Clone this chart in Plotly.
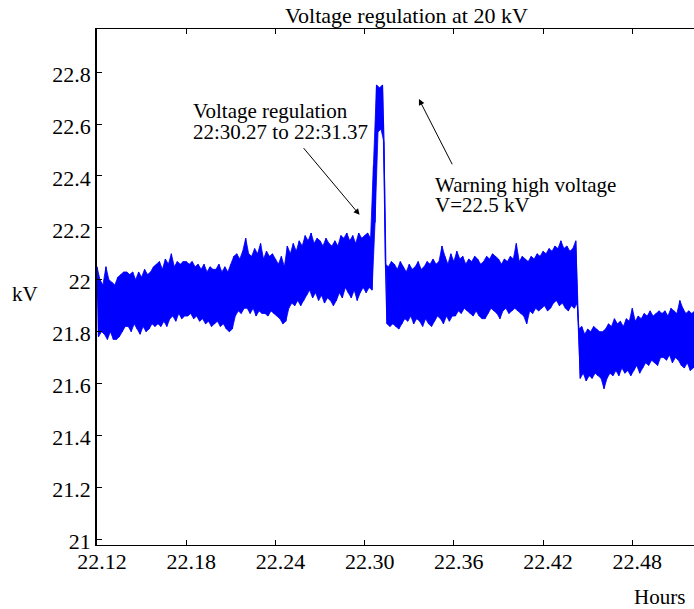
import numpy as np
import plotly.graph_objects as go

# ---------------- data ----------------
# sampling grid of the envelope readings (hours, 22.MM format)
t_start = 22.120
t_step = 0.002

# upper envelope of the voltage trace (kV), one value per sample
v_high = [
    22.05, 22.00, 21.98, 22.05, 22.00, 21.99, 21.98, 22.01, 22.02, 22.03,
    22.03, 22.02, 22.03, 22.00, 22.03, 22.01, 22.04, 22.02, 22.03, 22.05,
    22.06, 22.07, 22.04, 22.08, 22.06, 22.10, 22.05, 22.07, 22.06, 22.07,
    22.07, 22.06, 22.07, 22.05, 22.06, 22.04, 22.06, 22.03, 22.05, 22.04,
    22.04, 22.06, 22.03, 22.05, 22.03, 22.06, 22.09, 22.10, 22.08, 22.11,
    22.16, 22.10, 22.09, 22.12, 22.10, 22.14, 22.08, 22.11, 22.09, 22.10,
    22.08, 22.06, 22.09, 22.05, 22.13, 22.10, 22.14, 22.11, 22.15, 22.13,
    22.17, 22.15, 22.18, 22.14, 22.16, 22.15, 22.13, 22.16, 22.14, 22.13,
    22.15, 22.13, 22.17, 22.16, 22.18, 22.15, 22.17, 22.14, 22.18, 22.16,
    22.17, 22.18, 22.16, 22.44, 22.75, 22.74, 22.75, 22.06, 22.05, 22.07,
    22.06, 22.04, 22.07, 22.05, 22.03, 22.06, 22.04, 22.05, 22.07, 22.04,
    22.05, 22.07, 22.06, 22.08, 22.06, 22.07, 22.13, 22.09, 22.06, 22.10,
    22.07, 22.11, 22.08, 22.09, 22.06, 22.08, 22.07, 22.09, 22.08, 22.06,
    22.07, 22.09, 22.08, 22.10, 22.09, 22.08, 22.06, 22.08, 22.07, 22.09,
    22.08, 22.14, 22.07, 22.09, 22.08, 22.07, 22.09, 22.08, 22.10, 22.09,
    22.11, 22.10, 22.12, 22.11, 22.13, 22.12, 22.15, 22.12, 22.13, 22.11,
    22.12, 22.15, 21.81, 21.82, 21.79, 21.81, 21.80, 21.82, 21.81, 21.80,
    21.80, 21.81, 21.83, 21.82, 21.85, 21.83, 21.84, 21.82, 21.85, 21.84,
    21.89, 21.84, 21.86, 21.85, 21.87, 21.86, 21.88, 21.86, 21.87, 21.88,
    21.87, 21.88, 21.86, 21.89, 21.88, 21.87, 21.92, 21.89, 21.87, 21.88,
    21.87, 21.88,
]

# lower envelope of the voltage trace (kV), one value per sample
v_low = [
    21.78, 21.80, 21.79, 21.77, 21.80, 21.77, 21.77, 21.78, 21.80, 21.82,
    21.82, 21.80, 21.83, 21.81, 21.79, 21.82, 21.80, 21.81, 21.83, 21.82,
    21.83, 21.82, 21.84, 21.82, 21.85, 21.86, 21.84, 21.87, 21.85, 21.86,
    21.86, 21.87, 21.85, 21.86, 21.84, 21.85, 21.83, 21.84, 21.82, 21.83,
    21.84, 21.82, 21.83, 21.81, 21.80, 21.81, 21.86, 21.88, 21.87, 21.89,
    21.89, 21.87, 21.89, 21.86, 21.88, 21.87, 21.87, 21.86, 21.88, 21.87,
    21.86, 21.85, 21.83, 21.84, 21.89, 21.91, 21.90, 21.92, 21.90, 21.92,
    21.94, 21.96, 21.93, 21.95, 21.92, 21.94, 21.91, 21.93, 21.92, 21.90,
    21.92, 21.95, 21.93, 21.97, 21.95, 21.93, 21.96, 21.92, 21.95, 21.97,
    21.95, 21.97, 21.96, 22.22, 22.57, 22.58, 22.53, 21.83, 21.82, 21.83,
    21.82, 21.81, 21.83, 21.85, 21.84, 21.86, 21.83, 21.85, 21.84, 21.82,
    21.85, 21.83, 21.82, 21.84, 21.86, 21.85, 21.83, 21.86, 21.84, 21.86,
    21.86, 21.88, 21.87, 21.89, 21.88, 21.87, 21.86, 21.88, 21.86, 21.85,
    21.85, 21.87, 21.89, 21.88, 21.87, 21.85, 21.88, 21.89, 21.87, 21.88,
    21.89, 21.88, 21.87, 21.86, 21.83, 21.88, 21.87, 21.89, 21.88, 21.89,
    21.90, 21.88, 21.89, 21.91, 21.92, 21.90, 21.91, 21.89, 21.88, 21.90,
    21.89, 21.91, 21.62, 21.64, 21.61, 21.63, 21.62, 21.64, 21.63, 21.62,
    21.58, 21.62, 21.64, 21.63, 21.65, 21.63, 21.66, 21.64, 21.65, 21.63,
    21.65, 21.67, 21.64, 21.66, 21.68, 21.67, 21.69, 21.68, 21.67, 21.70,
    21.70, 21.69, 21.71, 21.68, 21.70, 21.69, 21.67, 21.66, 21.68, 21.65,
    21.66, 21.67,
]

x_ticks = [22.12, 22.18, 22.24, 22.30, 22.36, 22.42, 22.48]
x_tick_labels = ["22.12", "22.18", "22.24", "22.30", "22.36", "22.42", "22.48"]
y_ticks = [21.0, 21.2, 21.4, 21.6, 21.8, 22.0, 22.2, 22.4, 22.6, 22.8]
y_tick_labels = ["21", "21.2", "21.4", "21.6", "21.8", "22", "22.2", "22.4", "22.6", "22.8"]

# ---------------- build the traces ----------------
n = len(v_high)
t = np.round(t_start + t_step * np.arange(n), 4)
t_mid = t + t_step / 2

# dense measurement drawn as a zig-zag between the upper and lower readings
xs = np.empty(2 * n)
ys = np.empty(2 * n)
xs[0::2] = t
xs[1::2] = t_mid
ys[0::2] = v_high
ys[1::2] = v_low

# solid band under the zig-zag (upper readings forward, lower readings back)
band_x = np.concatenate([t, t_mid[::-1]])
band_y = np.concatenate([np.array(v_high), np.array(v_low)[::-1]])

FONT = "Liberation Serif"
FS = 21
TFS = 22
L, R, T, B = 97, 0, 29, 64
W, H = 694, 609
PW, PH = W - L - R, H - T - B


def px(xp):
    return (xp - L) / PW


def py(yp):
    return (H - B - yp) / PH


BLUE = "#0000ff"
fig = go.Figure()
fig.add_trace(go.Scatter(
    x=band_x, y=band_y, mode="lines", fill="toself", fillcolor=BLUE,
    line=dict(color=BLUE, width=0.8),
    hoverinfo="skip", showlegend=False,
))
fig.add_trace(go.Scatter(
    x=xs, y=ys, mode="lines",
    line=dict(color=BLUE, width=1.2),
    hoverinfo="skip", showlegend=False,
))

annotations = []


def label(text, xp, yp_base, xanchor="left", size=FS):
    annotations.append(dict(
        text=text, xref="paper", yref="paper",
        x=px(xp), y=py(yp_base - 0.30 * size),
        xanchor=xanchor, yanchor="middle", showarrow=False, borderpad=0,
        font=dict(family=FONT, size=size, color="black"),
    ))


label("Voltage regulation at 20 kV", 406.7, 21.7, "center", 22)
label("kV", 24.5, 300, "center")
label("Hours", 659.5, 603, "center")
label("Voltage regulation", 192, 117)
label("22:30.27 to 22:31.37", 192, 138)
label("Warning high voltage", 434, 191)
label("V=22.5 kV", 434, 211)

# arrows
annotations.append(dict(
    x=22.2966, y=22.250, ax=22.2581, ay=22.513,
    xref="x", yref="y", axref="x", ayref="y", text="",
    showarrow=True, arrowhead=2, arrowsize=1.2, arrowwidth=1, arrowcolor="black",
))
annotations.append(dict(
    x=22.3365, y=22.696, ax=22.3594, ay=22.439,
    xref="x", yref="y", axref="x", ayref="y", text="",
    showarrow=True, arrowhead=2, arrowsize=1.2, arrowwidth=1, arrowcolor="black",
))

fig.update_layout(
    width=W, height=H,
    margin=dict(l=L, r=R, t=T, b=B, pad=0),
    paper_bgcolor="white", plot_bgcolor="white",
    font=dict(family=FONT, size=FS, color="black"),
    showlegend=False,
    annotations=annotations,
    xaxis=dict(
        range=[22.12, 22.5215], tickvals=x_ticks, ticktext=x_tick_labels,
        ticks="inside", ticklen=5, tickwidth=1, tickcolor="black",
        showline=True, linecolor="black", linewidth=1.3, mirror="ticks",
        showgrid=False, zeroline=False,
        tickfont=dict(family=FONT, size=TFS, color="black"),
        ticklabelshift=5, ticklabelstandoff=-4,
    ),
    yaxis=dict(
        range=[20.978, 22.966], tickvals=y_ticks, ticktext=y_tick_labels,
        ticks="inside", ticklen=5, tickwidth=1, tickcolor="black",
        showline=True, linecolor="black", linewidth=1.5, mirror=False,
        showgrid=False, zeroline=False,
        tickfont=dict(family=FONT, size=TFS, color="black"),
        ticklabelshift=2,
    ),
)

fig.write_html(
    "out.html",
    config={"displayModeBar": False},
    post_script="document.body.style.margin='0';document.body.style.padding='0';"
                "document.documentElement.style.overflow='hidden';",
)
